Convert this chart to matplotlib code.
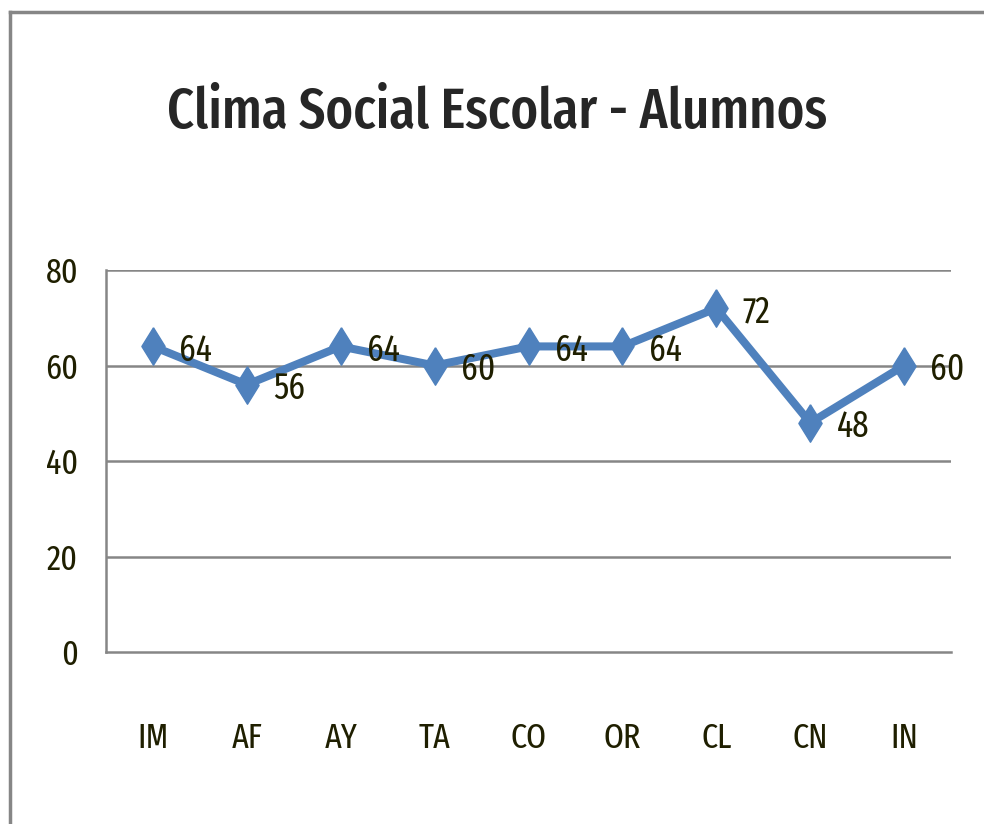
import matplotlib
matplotlib.use("Agg")
import matplotlib.pyplot as plt
from matplotlib.lines import Line2D

# datos del gráfico
categorias = ["IM", "AF", "AY", "TA", "CO", "OR", "CL", "CN", "IN"]
valores = [64, 56, 64, 60, 64, 64, 72, 48, 60]
y_ticks = [0, 20, 40, 60, 80]

plt.rcParams['font.family'] = ['Fira Sans Extra Condensed', 'Barlow Condensed', 'DejaVu Sans']

fig = plt.figure(figsize=(9.84, 8.24), dpi=100)
ax = fig.add_axes([0.1077, 0.2087, 0.8588, 0.4636])

# rombo alargado como en Excel
rombo = [(0, 1), (0.62, 0), (0, -1), (-0.62, 0), (0, 1)]

x = list(range(len(categorias)))
ax.plot(x, valores, color="#4F81BD", lw=5.8, marker=rombo, ms=27,
        markeredgecolor="#4F81BD", markerfacecolor="#4F81BD", zorder=3)

# etiquetas de datos a la derecha
for xi, v in zip(x, valores):
    ax.annotate(str(v), (xi, v), xytext=(19, -3), textcoords="offset points",
                ha="left", va="center", fontsize=26, color="#1f1f00")

ax.set_xlim(-0.5, len(categorias) - 0.5)
ax.set_ylim(0, 80)
ax.set_yticks(y_ticks)
ax.set_xticks(x)
ax.set_xticklabels(categorias)
ax.tick_params(length=0, labelsize=25, labelcolor="#1f1f00")
ax.tick_params(axis="x", pad=50)
ax.tick_params(axis="y", pad=20)

for t in y_ticks[1:]:
    ax.axhline(t, color="#868686", lw=1.8, zorder=1)
for s in ["top", "right"]:
    ax.spines[s].set_visible(False)
for s in ["left", "bottom"]:
    ax.spines[s].set_color("#868686")
    ax.spines[s].set_linewidth(1.8)

fig.text(0.505, 0.863, "Clima Social Escolar - Alumnos", ha="center", va="center",
         fontsize=41, color="#262626", weight=500)

# marco exterior
fig.add_artist(Line2D([0.010, 1.0], [0.985, 0.985], color="#868686", lw=2.5,
                      transform=fig.transFigure))
fig.add_artist(Line2D([0.010, 0.010], [0.0, 0.985], color="#868686", lw=2.5,
                      transform=fig.transFigure))

fig.savefig("out.png", dpi=100)
